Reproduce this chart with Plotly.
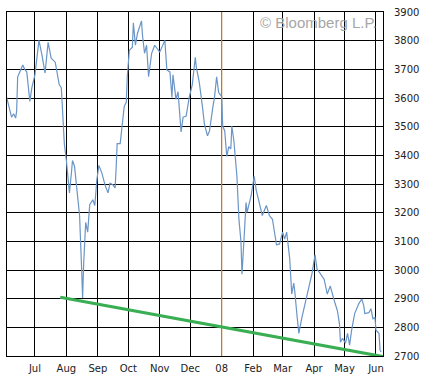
import plotly.graph_objects as go

dates = [
    "2007-06-03", "2007-06-06", "2007-06-08", "2007-06-10", "2007-06-12", "2007-06-13", "2007-06-14",
    "2007-06-16", "2007-06-19", "2007-06-21", "2007-06-23", "2007-06-26", "2007-06-28", "2007-07-01",
    "2007-07-03", "2007-07-05", "2007-07-08", "2007-07-11", "2007-07-14", "2007-07-17", "2007-07-21",
    "2007-07-25", "2007-07-27", "2007-07-29", "2007-07-30", "2007-08-01", "2007-08-04", "2007-08-06",
    "2007-08-07", "2007-08-09", "2007-08-12", "2007-08-14", "2007-08-16", "2007-08-17", "2007-08-18",
    "2007-08-20", "2007-08-22", "2007-08-24", "2007-08-27", "2007-08-29", "2007-08-31", "2007-09-02",
    "2007-09-05", "2007-09-08", "2007-09-11", "2007-09-13", "2007-09-16", "2007-09-18", "2007-09-19",
    "2007-09-20", "2007-09-23", "2007-09-25", "2007-09-27", "2007-09-29", "2007-09-30", "2007-10-02",
    "2007-10-05", "2007-10-06", "2007-10-08", "2007-10-10", "2007-10-14", "2007-10-15", "2007-10-17",
    "2007-10-19", "2007-10-21", "2007-10-24", "2007-10-27", "2007-11-01", "2007-11-06", "2007-11-08",
    "2007-11-11", "2007-11-13", "2007-11-14", "2007-11-17", "2007-11-19", "2007-11-22", "2007-11-24",
    "2007-11-27", "2007-11-30", "2007-12-03", "2007-12-06", "2007-12-07", "2007-12-10", "2007-12-13",
    "2007-12-15", "2007-12-18", "2007-12-20", "2007-12-23", "2007-12-25", "2007-12-27", "2007-12-29",
    "2008-01-01", "2008-01-02", "2008-01-04", "2008-01-06", "2008-01-08", "2008-01-10", "2008-01-11",
    "2008-01-13", "2008-01-16", "2008-01-18", "2008-01-20", "2008-01-21", "2008-01-23", "2008-01-25",
    "2008-01-26", "2008-01-30", "2008-02-02", "2008-02-04", "2008-02-07", "2008-02-10", "2008-02-14",
    "2008-02-17", "2008-02-20", "2008-02-24", "2008-02-27", "2008-03-01", "2008-03-03", "2008-03-05",
    "2008-03-08", "2008-03-09", "2008-03-10", "2008-03-12", "2008-03-13", "2008-03-15", "2008-03-17",
    "2008-03-20", "2008-03-23", "2008-03-27", "2008-03-30", "2008-04-02", "2008-04-04", "2008-04-07",
    "2008-04-11", "2008-04-14", "2008-04-17", "2008-04-21", "2008-04-24", "2008-04-26", "2008-04-27",
    "2008-04-29", "2008-05-02", "2008-05-04", "2008-05-06", "2008-05-08", "2008-05-11", "2008-05-15",
    "2008-05-18", "2008-05-20", "2008-05-21", "2008-05-25", "2008-05-27", "2008-05-29", "2008-05-31",
    "2008-06-01", "2008-06-04", "2008-06-05", "2008-06-06",
]
values = [
    3605, 3560, 3533, 3545, 3530, 3554, 3674,
    3690, 3715, 3700, 3691, 3588, 3636, 3681,
    3739, 3801, 3749, 3687, 3794, 3739, 3725,
    3646, 3636, 3499, 3440, 3382, 3269, 3340,
    3382, 3362, 3260, 3190, 3005, 2902, 3019,
    3166, 3132, 3228, 3245, 3225, 3314, 3365,
    3338, 3297, 3269, 3303, 3297, 3286, 3355,
    3441, 3441, 3502, 3571, 3585, 3674, 3766,
    3777, 3862, 3784, 3825, 3869, 3818, 3756,
    3784, 3674, 3756, 3784, 3760, 3801, 3698,
    3691, 3602, 3681, 3595, 3622, 3482, 3533,
    3537, 3602, 3646, 3742, 3708, 3653, 3571,
    3509, 3468, 3485, 3561, 3605, 3674, 3619,
    3605, 3502, 3485, 3396, 3430, 3423, 3502,
    3451, 3327, 3177, 3098, 2985, 3108, 3235,
    3201, 3259, 3327, 3279, 3235, 3190, 3225,
    3190, 3177, 3088, 3091, 3132, 3108, 3132,
    3040, 2950, 2916, 2954, 2926, 2848, 2779,
    2834, 2882, 2937, 2988, 3053, 3002, 2988,
    2967, 2916, 2944, 2892, 2858, 2813, 2748,
    2762, 2745, 2779, 2738, 2790, 2848, 2882,
    2899, 2875, 2848, 2851, 2865, 2830, 2834,
    2790, 2779, 2721, 2714,
]

trend_dates = ["2007-07-26", "2008-06-08"]
trend_values = [2905, 2698]

marker_date = "2008-01-01"
y_min, y_max = 2700, 3900

tick_dates = ["2007-07-01", "2007-08-01", "2007-09-01", "2007-10-01", "2007-11-01", "2007-12-01",
              "2008-01-01", "2008-02-01", "2008-03-01", "2008-04-01", "2008-05-01", "2008-06-01"]
tick_labels = ["Jul", "Aug", "Sep", "Oct", "Nov", "Dec", "08", "Feb", "Mar", "Apr", "May", "Jun"]
y_ticks = list(range(y_min, y_max + 1, 100))

fig = go.Figure()
fig.add_trace(go.Scatter(x=[marker_date, marker_date], y=[y_min, y_max], mode="lines",
                         line=dict(color="#cc8a38", width=1.2), hoverinfo="skip"))
fig.add_trace(go.Scatter(x=dates, y=values, mode="lines",
                         line=dict(color="#6a95c6", width=1.2), hoverinfo="skip"))
fig.add_trace(go.Scatter(x=trend_dates, y=trend_values, mode="lines",
                         line=dict(color="#3aae52", width=3.2), hoverinfo="skip"))

fig.add_annotation(text="© Bloomberg L.P.", xref="paper", yref="paper", x=1, y=0.97,
                   xanchor="right", yanchor="middle", xshift=-4, showarrow=False,
                   font=dict(family="Liberation Sans, Arial", size=15, color="#a6a6a6"))

fig.update_layout(
    width=426, height=383,
    margin=dict(l=7, r=43, t=6, b=27),
    paper_bgcolor="white", plot_bgcolor="white",
    showlegend=False,
    font=dict(family="DejaVu Sans, Verdana", size=10, color="#222222"),
)
fig.update_xaxes(
    type="date", range=["2007-06-03 12:00", "2008-06-07 22:00"],
    tickmode="array", tickvals=tick_dates, ticktext=tick_labels,
    showgrid=True, gridcolor="black", gridwidth=1,
    showline=True, linecolor="black", linewidth=1, mirror=True,
    ticks="", ticklabelstandoff=3, zeroline=False,
)
fig.update_yaxes(
    side="right", range=[y_min, y_max], tickmode="array", tickvals=y_ticks,
    showgrid=True, gridcolor="black", gridwidth=1,
    showline=True, linecolor="black", linewidth=1, mirror=True,
    ticks="", ticklabelstandoff=8, zeroline=False,
)

fig.write_html("out.html", config={"displayModeBar": False},
               post_script="document.body.style.margin='0';")
